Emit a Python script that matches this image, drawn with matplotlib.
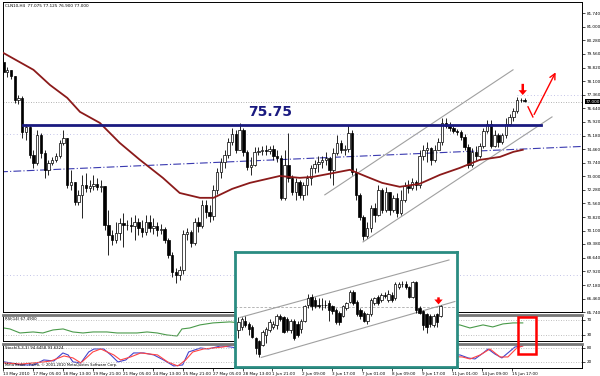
# CLN10 H4 chart with RSI / Stochastic panels and a zoomed channel inset
import matplotlib
matplotlib.use("Agg")
import matplotlib.pyplot as plt

# ---- main candles (4H bars), opens follow the previous close ----
first_open = 79.12
closes = [78.59, 78.70, 78.37, 77.09, 77.20, 75.38, 75.65, 74.15, 73.72, 75.22,
          74.25, 73.35, 73.72, 73.88, 74.09, 74.79, 75.06, 72.54, 72.70, 71.63,
          72.01, 72.54, 72.38, 72.49, 72.60, 72.44, 72.49, 70.40, 69.87, 69.60,
          69.97, 70.51, 70.40, 70.40, 70.35, 70.56, 70.24, 70.03, 70.56, 70.24,
          70.35, 70.14, 70.19, 69.60, 68.80, 67.89, 67.73, 68.00, 69.92, 70.03,
          69.44, 70.56, 70.35, 71.47, 71.10, 70.88, 72.28, 73.24, 73.77, 74.15,
          74.84, 75.27, 74.42, 75.49, 74.31, 73.50, 73.61, 74.31, 74.36, 74.42,
          74.36, 74.47, 74.09, 73.99, 71.85, 73.61, 72.92, 72.17, 72.70, 72.01,
          72.54, 72.92, 73.45, 73.67, 73.77, 73.88, 73.99, 73.35, 74.25, 74.79,
          74.42, 74.47, 75.33, 73.24, 72.01, 70.83, 69.81, 70.24, 71.31, 70.94,
          72.28, 71.21, 72.17, 71.21, 71.85, 71.04, 71.74, 72.49, 72.38, 72.70,
          72.54, 74.09, 74.42, 74.52, 73.88, 74.42, 74.84, 75.86, 75.70, 75.59,
          75.43, 75.38, 75.11, 74.58, 73.61, 74.31, 74.09, 74.63, 75.43, 75.81,
          74.63, 75.22, 74.84, 75.22, 75.81, 76.18, 76.50, 77.09, 77.09, 77.04]
highs = [79.34, 78.86, 78.70, 78.37, 77.36, 77.30, 75.81, 75.75, 74.42, 75.49,
         75.33, 74.42, 73.88, 74.04, 74.25, 74.95, 75.49, 75.06, 73.35, 72.70,
         72.28, 73.08, 73.18, 72.81, 73.08, 72.92, 72.81, 72.49, 71.21, 70.14,
         70.56, 70.78, 71.04, 70.67, 70.83, 70.94, 70.78, 70.67, 70.94, 70.94,
         70.78, 70.56, 70.46, 70.30, 69.71, 68.96, 68.10, 68.21, 70.14, 70.24,
         70.14, 70.78, 70.83, 71.74, 71.74, 71.47, 72.54, 73.45, 73.99, 74.42,
         75.06, 75.59, 75.49, 75.86, 75.59, 74.42, 74.04, 74.58, 74.58, 74.63,
         74.68, 74.63, 74.68, 74.42, 74.15, 74.42, 75.33, 73.08, 72.92, 72.81,
         72.70, 73.08, 73.61, 73.88, 74.09, 74.09, 74.31, 74.04, 74.52, 75.22,
         74.95, 74.68, 75.75, 75.49, 73.45, 72.11, 70.94, 70.56, 71.47, 71.58,
         72.54, 72.38, 72.44, 72.17, 72.01, 72.11, 72.28, 72.70, 72.81, 72.92,
         72.81, 74.42, 74.68, 74.84, 74.58, 74.68, 75.06, 76.13, 76.13, 75.91,
         75.70, 75.54, 75.49, 75.27, 74.74, 74.52, 74.63, 74.79, 75.59, 76.02,
         76.02, 75.49, 75.33, 75.33, 76.13, 76.34, 76.66, 77.25, 77.20, 77.20]
lows = [78.43, 78.32, 78.21, 76.93, 76.88, 75.06, 74.95, 73.99, 73.45, 73.61,
        73.99, 72.92, 73.08, 73.61, 73.77, 73.99, 74.68, 72.38, 72.28, 71.47,
        71.47, 70.78, 72.17, 72.17, 72.28, 72.28, 72.17, 70.14, 68.80, 69.33,
        69.44, 69.60, 69.23, 70.14, 70.03, 69.60, 69.87, 69.76, 69.87, 70.03,
        69.92, 69.81, 69.92, 69.44, 68.64, 67.62, 67.30, 67.46, 67.78, 69.60,
        69.23, 69.33, 70.03, 70.24, 70.78, 70.56, 70.67, 72.06, 72.92, 73.45,
        73.99, 74.68, 74.25, 74.42, 74.09, 73.35, 73.08, 73.56, 74.15, 74.15,
        74.15, 74.20, 73.88, 73.77, 71.74, 71.74, 72.70, 72.01, 71.74, 71.85,
        71.74, 72.01, 72.54, 73.18, 73.24, 73.45, 73.61, 72.92, 72.54, 74.15,
        74.25, 74.15, 74.31, 73.08, 71.74, 70.67, 69.60, 69.71, 70.03, 70.56,
        70.88, 71.04, 71.10, 70.94, 71.10, 70.83, 70.94, 71.63, 72.11, 72.28,
        72.28, 72.38, 73.88, 73.77, 73.61, 73.77, 74.42, 74.68, 75.59, 75.43,
        75.33, 75.22, 74.95, 74.42, 73.45, 73.50, 73.88, 73.99, 74.52, 75.33,
        74.52, 74.58, 74.58, 74.74, 75.06, 75.70, 75.97, 76.40, 76.98, 76.98]

# moving average (bar index, price)
ma_idx = [0, 8, 12.4, 17, 20.4, 25.7, 31, 36.4, 42.5, 47, 52.4, 56, 61, 65.7, 73.7,
          79, 82.5, 88, 92.4, 97, 101, 105.7, 111, 116.4, 121.7, 127, 132.4, 136, 138.5]
ma_val = [79.60, 78.70, 77.89, 77.20, 76.45, 75.86, 74.79, 73.88, 72.92, 72.11, 71.85,
          71.85, 72.33, 72.65, 73.02, 72.92, 72.97, 73.18, 73.35, 72.97, 72.65, 72.44,
          72.60, 73.08, 73.45, 73.88, 74.04, 74.31, 74.42]

# RSI(14)
rsi_idx = [0, 1.7, 4.4, 7.9, 10.5, 13.2, 15.9, 18.5, 21.2, 23.9, 27.6, 30.3, 33, 35.6,
           38.3, 41, 43.6, 46.3, 47.6, 49.7, 52.4, 55.9, 60.4, 75, 90, 105, 121.7,
           124.4, 127.9, 130.5, 133.2, 135.9, 138.5]
rsi_val = [48.6, 46, 35.3, 38, 35.3, 43.3, 46, 38, 35.3, 38, 38, 35.3, 35.3, 35.3,
           38, 35.3, 30, 27.3, 46, 48.6, 56.7, 62, 64.7, 50, 55, 45, 56.7,
           48.6, 56.7, 51.3, 59.3, 62, 62]

# Stochastic(5,3,3) main and signal
st_idx = [0, 1.7, 4.4, 7.9, 10.5, 13.2, 15.6, 17, 18.3, 20.4, 22.5, 23.9, 26.5, 28.4,
          30.3, 32.4, 34.5, 37.2, 39.9, 42.5, 45.2, 47.6, 49.2, 52.4, 54.5, 57.7,
          60.4, 80, 100, 121.7, 123.9, 125.7, 127.9, 129.2, 131, 132.9, 134.5,
          136.4, 138.3]
st_main = [20, 15.7, 7.1, 7.1, 28.5, 24.2, 58.6, 50, 20, 15.7, 62.8, 75.7, 75.7, 50,
           20, 28.5, 58.6, 58.6, 50, 28.5, 2.8, 7.1, 62.8, 80, 75.7, 88.6,
           84.3, 30, 60, 50, 37.1, 32.8, 58.6, 75.7, 54.3, 37.1, 58.6,
           84.3, 88.6]
sig_idx = [0, 4.4, 10.5, 12.4, 15.9, 18.3, 20.4, 23.6, 25.7, 29.2, 31, 33.7, 36.4,
           40.9, 43.6, 46.3, 48.4, 50.3, 53.2, 55.9, 58.5, 60.9, 80, 100, 122.3,
           124.4, 127.1, 129.7, 132.4, 134.5, 136.9, 138.5]
st_signal = [15.7, 11, 20, 24.2, 45.7, 37.1, 15.7, 62.8, 75.7, 50, 28.5, 41.4, 58.6,
             50, 20, 2.8, 28.5, 62.8, 75.7, 80, 84.3, 92.9, 35, 55, 41.4,
             32.8, 50, 75.7, 41.4, 41.4, 80, 88.6]

price_ticks = [81.74, 81.00, 80.28, 79.56, 78.82, 78.10, 77.36, 76.64, 75.92, 75.18,
               74.46, 73.74, 73.00, 72.28, 71.56, 70.82, 70.10, 69.38, 68.64, 67.92,
               67.18, 66.46, 65.74]
x_labels = ["13 May 2010", "17 May 05:00", "18 May 13:00", "19 May 21:00", "21 May 05:00",
            "24 May 13:00", "25 May 21:00", "27 May 05:00", "28 May 13:00", "1 Jun 21:00",
            "2 Jun 09:00", "3 Jun 17:00", "7 Jun 01:00", "8 Jun 09:00", "9 Jun 17:00",
            "11 Jun 01:00", "14 Jun 09:00", "15 Jun 17:00"]

# ---- inset candles (zoomed channel, arbitrary scale) ----
ins_open = [11.5, 12.5, 14.5, 13.5, 12.5, 9.0, 8.0, 7.0, 10.0, 11.5,
            12.5, 13.0, 16.0, 15.5, 15.0, 11.5, 14.5, 13.5, 12.0, 14.5,
            19.5, 22.0, 21.0, 19.5, 19.3, 19.5, 20.0, 19.0, 18.0, 17.0,
            16.0, 18.5, 20.5, 23.5, 20.5, 18.0, 17.0, 14.5, 16.5, 20.0,
            22.0, 21.0, 22.5, 21.0, 22.5, 21.5, 25.0, 26.0, 26.0, 25.0,
            22.0, 26.5, 18.5, 17.5, 16.5, 16.0, 13.0, 16.5, 16.0]
ins_close = [14.0, 15.0, 13.0, 12.0, 9.5, 6.0, 4.0, 11.0, 12.0, 14.0,
             13.5, 16.0, 15.0, 11.0, 11.5, 14.5, 9.0, 10.0, 14.5, 19.0,
             21.5, 19.0, 19.0, 19.0, 19.5, 19.3, 18.0, 17.5, 14.0, 14.0,
             19.0, 20.0, 23.5, 20.0, 16.5, 16.0, 14.5, 16.5, 21.0, 21.5,
             20.0, 22.5, 22.2, 23.0, 21.0, 26.0, 26.0, 26.0, 25.0, 22.0,
             26.5, 18.0, 17.0, 13.0, 12.5, 13.5, 16.0, 14.0, 19.0]
ins_high = [15.5, 15.5, 16.0, 14.0, 13.0, 9.5, 8.5, 11.5, 12.5, 15.0,
            14.5, 16.5, 16.5, 16.0, 15.5, 15.0, 15.0, 14.5, 15.0, 19.5,
            23.0, 23.0, 22.0, 21.5, 21.5, 21.0, 21.0, 19.5, 18.5, 17.5,
            19.5, 20.5, 24.0, 24.0, 21.0, 18.5, 17.5, 17.0, 21.5, 22.0,
            22.5, 23.2, 23.5, 24.0, 23.5, 26.5, 26.5, 27.0, 27.0, 25.5,
            27.0, 27.0, 19.0, 18.0, 17.0, 16.5, 16.5, 17.0, 19.5]
ins_low = [9.0, 11.5, 12.5, 10.0, 9.0, 4.0, 3.0, 6.5, 7.5, 11.0,
           12.0, 12.0, 14.5, 10.5, 11.0, 10.5, 8.5, 9.5, 10.5, 14.0,
           18.5, 18.0, 18.5, 18.5, 18.0, 18.5, 14.5, 16.5, 13.5, 13.0,
           15.5, 18.0, 20.0, 19.5, 16.0, 15.0, 14.0, 13.5, 16.0, 19.5,
           19.5, 20.5, 21.5, 20.5, 20.5, 21.0, 24.5, 25.0, 24.5, 21.5,
           21.5, 17.0, 16.5, 11.5, 10.5, 12.5, 12.5, 12.5, 15.5]

XMAX = 154.3  # right edge of the plot area in bar units


def candles(ax, o, h, l, c, width):
    for i in range(len(c)):
        ax.vlines(i, l[i], h[i], color="black", lw=0.6, zorder=3)
        up = c[i] >= o[i]
        ax.bar(i, abs(c[i] - o[i]), bottom=min(o[i], c[i]), width=width,
               color="white" if up else "black", edgecolor="black", lw=0.5, zorder=4)


fig = plt.figure(figsize=(6, 3.76), dpi=100)
fig.patch.set_facecolor("white")

# main price panel
ax = fig.add_axes([3 / 600, 64 / 376, 579 / 600, 310 / 376])
opens = [first_open] + closes[:-1]

ax.axhline(77.00, color="#999999", lw=0.6, ls=(0, (1, 2)), zorder=1)
for lvl in [75.27, 67.73]:
    ax.axhline(lvl, color="#b0b0e0", lw=0.6, ls=(0, (1, 3)), zorder=1)
ax.plot([137, XMAX], [77.33, 77.33], color="#b0b0e0", lw=0.6, ls=(0, (1, 3)))

# slanted dash-dot trend line
ax.plot([-0.9, XMAX], [73.24, 74.60], color="#3a3ab0", lw=0.8, ls=(0, (7, 2, 1, 2)), zorder=2)
# channel lines
ax.plot([95.9, 146.3], [69.49, 76.18], color="#a0a0a0", lw=0.8, zorder=2)
ax.plot([85.7, 135.9], [72.01, 78.70], color="#a0a0a0", lw=0.8, zorder=2)

candles(ax, opens, highs, lows, closes, 0.65)

ax.plot(ma_idx, ma_val, color="#8b1a1a", lw=1.3, zorder=5)

# 75.75 resistance
ax.plot([5.2, 143.3], [75.75, 75.75], color="#1a1a80", lw=2, zorder=6)
ax.text(71, 76.05, "75.75", color="#1a1a80", fontsize=10, fontweight="bold",
        ha="center", va="bottom", zorder=6)

# red arrows
ax.annotate("", xy=(138.5, 77.35), xytext=(138.5, 77.95),
            arrowprops=dict(color="red", width=1.8, headwidth=6, headlength=3.5, lw=0))
ax.plot([139.9, 141.2], [76.72, 76.18], color="red", lw=1)
ax.annotate("", xy=(147.6, 78.70), xytext=(141.2, 76.18),
            arrowprops=dict(arrowstyle="->", color="red", lw=1))

ax.set_xlim(-0.13, XMAX)
ax.set_ylim(65.75, 82.33)
ax.yaxis.tick_right()
ax.set_yticks(price_ticks)
ax.set_yticklabels(["%.3f" % p for p in price_ticks], fontsize=3)
ax.tick_params(axis="y", length=2, width=0.5, pad=1.5)
ax.set_xticks([])
for s in ax.spines.values():
    s.set_linewidth(0.7)
ax.text(0.004, 0.993, "CLN10,H4  77.075 77.125 76.900 77.000", transform=ax.transAxes,
        fontsize=3, va="top", ha="left")
ax.text(1.006, (77.00 - 65.75) / (82.33 - 65.75), "77.000", transform=ax.transAxes,
        fontsize=3, color="white", va="center", ha="left",
        bbox=dict(facecolor="black", edgecolor="none", pad=0.5))

# RSI panel
ax_rsi = fig.add_axes([3 / 600, 35 / 376, 579 / 600, 26 / 376])
ax_rsi.plot(rsi_idx, rsi_val, color="#4a9a4a", lw=0.8)
for lvl in [70, 30]:
    ax_rsi.axhline(lvl, color="#aaaaaa", lw=0.6, ls=(0, (1, 2)))
ax_rsi.set_xlim(-0.13, XMAX)
ax_rsi.set_ylim(14, 83)
ax_rsi.yaxis.tick_right()
ax_rsi.set_yticks([70, 30])
ax_rsi.set_yticklabels(["70", "30"], fontsize=3)
ax_rsi.tick_params(axis="y", length=2, width=0.5, pad=1.5)
ax_rsi.set_xticks([])
ax_rsi.text(0.004, 0.93, "RSI(14) 67.4900", transform=ax_rsi.transAxes, fontsize=2.8, va="top")
for s in ax_rsi.spines.values():
    s.set_linewidth(0.7)
ax_rsi.spines["top"].set_linewidth(2)
ax_rsi.spines["top"].set_color("#777777")

# Stochastic panel
ax_st = fig.add_axes([3 / 600, 8 / 376, 579 / 600, 24 / 376])
ax_st.plot(st_idx, st_main, color="#4444cc", lw=0.8)
ax_st.plot(sig_idx, st_signal, color="#ff4444", lw=0.8)
for lvl in [80, 20]:
    ax_st.axhline(lvl, color="#aaaaaa", lw=0.6, ls=(0, (1, 2)))
ax_st.set_xlim(-0.13, XMAX)
ax_st.set_ylim(-6, 97)
ax_st.yaxis.tick_right()
ax_st.set_yticks([80, 20])
ax_st.set_yticklabels(["80", "20"], fontsize=3)
ax_st.tick_params(axis="y", length=2, width=0.5, pad=1.5)
ax_st.set_xticks([8 * k - 0.4 for k in range(len(x_labels))])
ax_st.set_xticklabels(x_labels, fontsize=3, ha="left")
ax_st.tick_params(axis="x", length=2, width=0.5, pad=1)
ax_st.text(0.004, 0.93, "Stoch(5,3,3) 94.6458 93.6324", transform=ax_st.transAxes,
           fontsize=2.8, va="top")
ax_st.text(0.004, 0.05, "MetaTrader - FxPro, © 2001-2010 MetaQuotes Software Corp.",
           transform=ax_st.transAxes, fontsize=2.6, va="bottom")
for s in ax_st.spines.values():
    s.set_linewidth(0.7)
ax_st.spines["top"].set_linewidth(2)
ax_st.spines["top"].set_color("#777777")

# red box over the last indicator values
fig.patches.append(plt.Rectangle((518 / 600, 1 - 354 / 376), 18 / 600, 37 / 376,
                                 transform=fig.transFigure, fill=False,
                                 edgecolor="red", lw=1.8, zorder=20))

# inset zoom of the channel
ax_in = fig.add_axes([235 / 600, 9 / 376, 222 / 600, 115 / 376], zorder=10)
ax_in.set_facecolor("white")
ax_in.axhline(18.8, color="#aaaaaa", lw=0.6, ls=(0, (3, 2)))
ax_in.plot([0.47, 60.4], [15.5, 33.5], color="#a0a0a0", lw=0.8)
ax_in.plot([6.6, 62.1], [3.0, 20.5], color="#a0a0a0", lw=0.8)
candles(ax_in, ins_open, ins_high, ins_low, ins_close, 0.7)
ax_in.annotate("", xy=(57.4, 19.6), xytext=(57.4, 21.8),
               arrowprops=dict(color="red", width=1.8, headwidth=6, headlength=3.5, lw=0))
ax_in.set_xlim(-0.94, 62.7)
ax_in.set_ylim(0, 36)
ax_in.set_xticks([])
ax_in.set_yticks([])
for s in ax_in.spines.values():
    s.set_color("#2a8c82")
    s.set_linewidth(2)

fig.savefig("out.png", dpi=100)
